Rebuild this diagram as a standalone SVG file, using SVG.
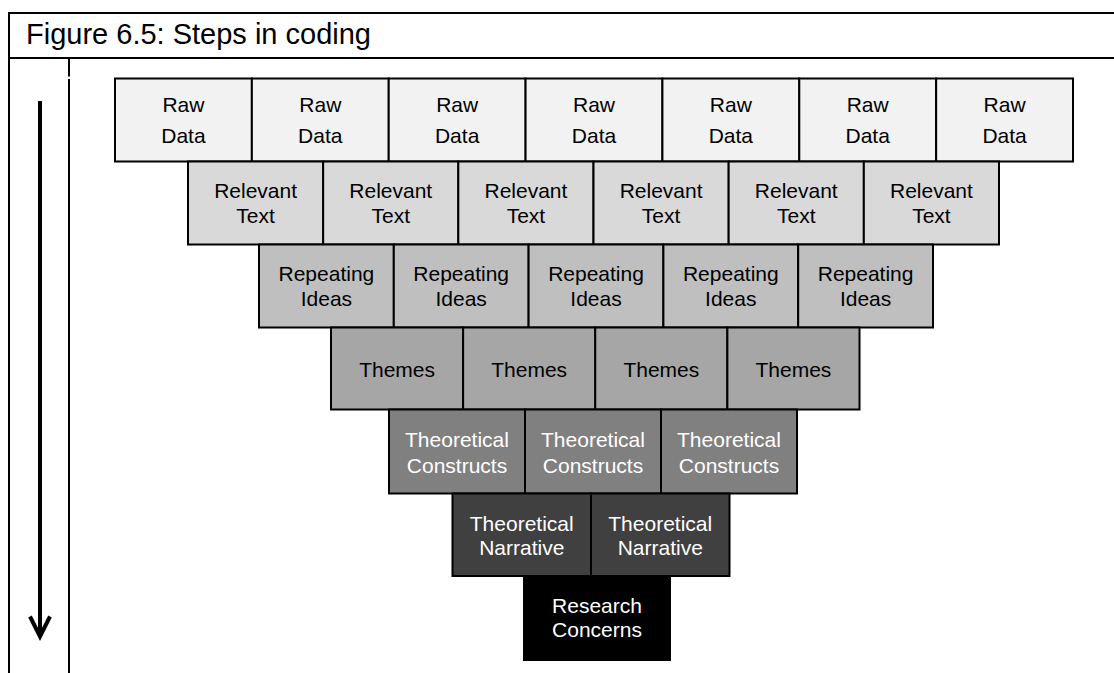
<svg xmlns="http://www.w3.org/2000/svg" width="1114" height="673" viewBox="0 0 1114 673">
<style>
  .frame { stroke:#000; stroke-width:2; fill:none; }
  .box rect { stroke:#000; stroke-width:2; }
  .box text { font-family:"Liberation Sans", Arial, sans-serif; font-size:21px; text-anchor:middle; }
  .r1 rect { fill:#f2f2f2; } .r1 text { fill:#000; }
  .r2 rect { fill:#d9d9d9; } .r2 text { fill:#000; }
  .r3 rect { fill:#bfbfbf; } .r3 text { fill:#000; }
  .r4 rect { fill:#a6a6a6; } .r4 text { fill:#000; }
  .r5 rect { fill:#808080; } .r5 text { fill:#fff; }
  .r6 rect { fill:#404040; } .r6 text { fill:#fff; }
  .r7 rect { fill:#000; } .r7 text { fill:#fff; }
  .title { font-family:"Liberation Sans", Arial, sans-serif; font-size:29px; fill:#000; }
</style>
<rect width="1114" height="673" fill="#fff"/>
<g id="frame">
  <line class="frame" x1="9" y1="13" x2="1114" y2="13"/>
  <line class="frame" x1="9" y1="58" x2="1114" y2="58"/>
  <line class="frame" x1="9" y1="12" x2="9" y2="673"/>
  <line class="frame" x1="69" y1="58" x2="69" y2="76.5"/>
  <line class="frame" x1="69" y1="79" x2="69" y2="673"/>
  <text class="title" x="26" y="44">Figure 6.5: Steps in coding</text>
</g>
<g id="connectors">
  <line x1="40" y1="101" x2="40" y2="636" stroke="#000" stroke-width="4"/>
  <polyline points="30,616.5 40,636.5 50,616.5" fill="none" stroke="#000" stroke-width="4"/>
</g>
<g id="raw1" class="box r1"><rect x="115" y="78.5" width="136.86" height="83"/><text x="183.43" y="111.7">Raw</text><text x="183.43" y="143.3">Data</text></g>
<g id="raw2" class="box r1"><rect x="251.86" y="78.5" width="136.86" height="83"/><text x="320.29" y="111.7">Raw</text><text x="320.29" y="143.3">Data</text></g>
<g id="raw3" class="box r1"><rect x="388.71" y="78.5" width="136.86" height="83"/><text x="457.14" y="111.7">Raw</text><text x="457.14" y="143.3">Data</text></g>
<g id="raw4" class="box r1"><rect x="525.57" y="78.5" width="136.86" height="83"/><text x="594" y="111.7">Raw</text><text x="594" y="143.3">Data</text></g>
<g id="raw5" class="box r1"><rect x="662.43" y="78.5" width="136.86" height="83"/><text x="730.86" y="111.7">Raw</text><text x="730.86" y="143.3">Data</text></g>
<g id="raw6" class="box r1"><rect x="799.29" y="78.5" width="136.86" height="83"/><text x="867.71" y="111.7">Raw</text><text x="867.71" y="143.3">Data</text></g>
<g id="raw7" class="box r1"><rect x="936.14" y="78.5" width="136.86" height="83"/><text x="1004.57" y="111.7">Raw</text><text x="1004.57" y="143.3">Data</text></g>

<g id="rel1" class="box r2"><rect x="188" y="161.5" width="135.17" height="83"/><text x="255.58" y="198.3">Relevant</text><text x="255.58" y="222.7">Text</text></g>
<g id="rel2" class="box r2"><rect x="323.17" y="161.5" width="135.17" height="83"/><text x="390.75" y="198.3">Relevant</text><text x="390.75" y="222.7">Text</text></g>
<g id="rel3" class="box r2"><rect x="458.33" y="161.5" width="135.17" height="83"/><text x="525.92" y="198.3">Relevant</text><text x="525.92" y="222.7">Text</text></g>
<g id="rel4" class="box r2"><rect x="593.5" y="161.5" width="135.17" height="83"/><text x="661.08" y="198.3">Relevant</text><text x="661.08" y="222.7">Text</text></g>
<g id="rel5" class="box r2"><rect x="728.67" y="161.5" width="135.17" height="83"/><text x="796.25" y="198.3">Relevant</text><text x="796.25" y="222.7">Text</text></g>
<g id="rel6" class="box r2"><rect x="863.83" y="161.5" width="135.17" height="83"/><text x="931.42" y="198.3">Relevant</text><text x="931.42" y="222.7">Text</text></g>

<g id="rep1" class="box r3"><rect x="259" y="244.5" width="134.8" height="83"/><text x="326.4" y="281">Repeating</text><text x="326.4" y="306">Ideas</text></g>
<g id="rep2" class="box r3"><rect x="393.8" y="244.5" width="134.8" height="83"/><text x="461.2" y="281">Repeating</text><text x="461.2" y="306">Ideas</text></g>
<g id="rep3" class="box r3"><rect x="528.6" y="244.5" width="134.8" height="83"/><text x="596" y="281">Repeating</text><text x="596" y="306">Ideas</text></g>
<g id="rep4" class="box r3"><rect x="663.4" y="244.5" width="134.8" height="83"/><text x="730.8" y="281">Repeating</text><text x="730.8" y="306">Ideas</text></g>
<g id="rep5" class="box r3"><rect x="798.2" y="244.5" width="134.8" height="83"/><text x="865.6" y="281">Repeating</text><text x="865.6" y="306">Ideas</text></g>

<g id="thm1" class="box r4"><rect x="331" y="327.5" width="132.13" height="82"/><text x="397.06" y="377.3">Themes</text></g>
<g id="thm2" class="box r4"><rect x="463.13" y="327.5" width="132.13" height="82"/><text x="529.19" y="377.3">Themes</text></g>
<g id="thm3" class="box r4"><rect x="595.25" y="327.5" width="132.13" height="82"/><text x="661.31" y="377.3">Themes</text></g>
<g id="thm4" class="box r4"><rect x="727.38" y="327.5" width="132.13" height="82"/><text x="793.44" y="377.3">Themes</text></g>

<g id="con1" class="box r5"><rect x="389" y="409.5" width="136" height="84"/><text x="457" y="446.7">Theoretical</text><text x="457" y="472.7">Constructs</text></g>
<g id="con2" class="box r5"><rect x="525" y="409.5" width="136" height="84"/><text x="593" y="446.7">Theoretical</text><text x="593" y="472.7">Constructs</text></g>
<g id="con3" class="box r5"><rect x="661" y="409.5" width="136" height="84"/><text x="729" y="446.7">Theoretical</text><text x="729" y="472.7">Constructs</text></g>

<g id="nar1" class="box r6"><rect x="452.5" y="493.5" width="138.5" height="82.5"/><text x="521.75" y="530.7">Theoretical</text><text x="521.75" y="555">Narrative</text></g>
<g id="nar2" class="box r6"><rect x="591" y="493.5" width="138.5" height="82.5"/><text x="660.25" y="530.7">Theoretical</text><text x="660.25" y="555">Narrative</text></g>

<g id="research" class="box r7"><rect x="524" y="576" width="146" height="84"/><text x="597" y="613.3">Research</text><text x="597" y="637.3">Concerns</text></g>
</svg>
